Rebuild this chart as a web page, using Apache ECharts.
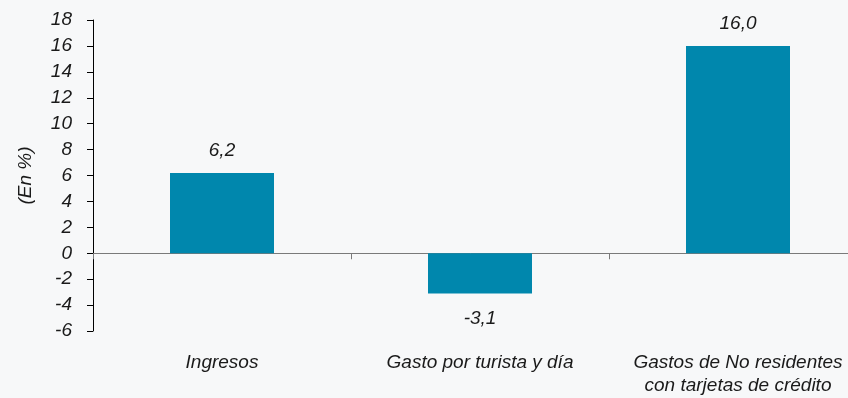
<!DOCTYPE html>
<html>
<head>
<meta charset="utf-8">
<script src="https://cdn.jsdelivr.net/npm/echarts@6/dist/echarts.min.js"></script>
<style>
  html, body { margin: 0; padding: 0; background: #f7f8f9; }
  #chart { width: 848px; height: 398px; }
</style>
</head>
<body>
<div id="chart"></div>
<script>
// Categories and year-on-year change values (%)
const categories = ['Ingresos', 'Gasto por turista y día', 'Gastos de No residentes\ncon tarjetas de crédito'];
const values = [6.2, -3.1, 16.0];
const yTicks = { min: -6, max: 18, step: 2 };

const FONT = '"Liberation Sans", Arial, Helvetica, sans-serif';
const textBase = { fontFamily: FONT, fontStyle: 'italic', fontSize: 19, color: '#1a1a1a' };

const chart = echarts.init(document.getElementById('chart'), null, { renderer: 'canvas' });

chart.setOption({
  backgroundColor: '#f7f8f9',
  animation: false,
  grid: { left: 93, top: 20, bottom: 67, right: -19, containLabel: false, outerBoundsMode: 'none' },
  xAxis: {
    type: 'category',
    data: categories,
    axisLine: { onZero: true, lineStyle: { color: '#7a7a7a', width: 1 } },
    axisTick: { show: true, length: 6, lineStyle: { color: '#7a7a7a' } },
    axisLabel: Object.assign({}, textBase, { margin: 20, lineHeight: 23, interval: 0, hideOverlap: false })
  },
  yAxis: {
    type: 'value',
    min: yTicks.min,
    max: yTicks.max,
    interval: yTicks.step,
    name: '(En %)',
    nameLocation: 'middle',
    nameGap: 58,
    nameRotate: 90,
    nameTextStyle: Object.assign({}, textBase),
    axisLine: { show: true, lineStyle: { color: '#000', width: 1 } },
    axisTick: { show: true, length: 6, lineStyle: { color: '#000' } },
    axisLabel: Object.assign({}, textBase, { margin: 21 }),
    splitLine: { show: false }
  },
  series: [{
    type: 'bar',
    barWidth: 104,
    itemStyle: { color: '#0087ad' },
    data: values.map(v => ({
      value: v,
      label: { position: v < 0 ? 'bottom' : 'top', distance: v < 0 ? 16 : 13 }
    })),
    label: Object.assign({}, textBase, {
      show: true,
      formatter: p => p.value.toFixed(1).replace('.', ',')
    })
  }]
});
</script>
</body>
</html>
